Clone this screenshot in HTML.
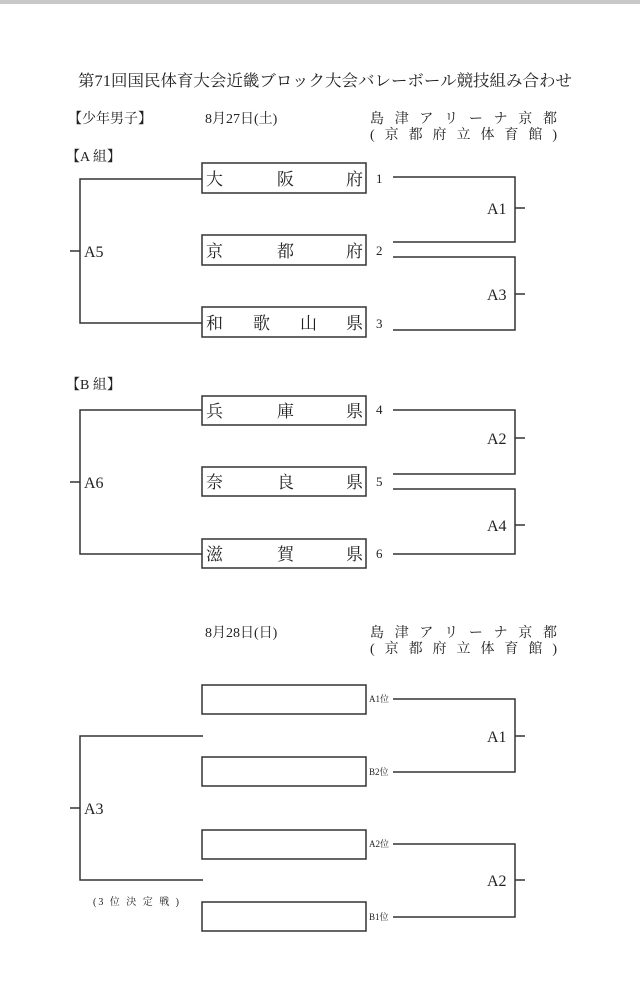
<!DOCTYPE html>
<html><head><meta charset="utf-8"><style>
html,body{margin:0;padding:0;background:#fff;}
svg{display:block}
text{font-family:"Liberation Serif","Noto Serif CJK SC","Noto Sans CJK JP",serif;fill:#222}
</style></head><body>
<svg width="640" height="985" viewBox="0 0 640 985" xmlns="http://www.w3.org/2000/svg">
<rect x="0" y="0" width="640" height="4" fill="#c8c8c8"/>
<g font-size="16">
<text x="78" y="86" textLength="494" lengthAdjust="spacingAndGlyphs">第71回国民体育大会近畿ブロック大会バレーボール競技組み合わせ</text>
</g>
<g font-size="14">
<text x="68" y="123">【少年男子】</text>
<text x="205" y="123">8月27日(土)</text>
<text x="370" y="123" textLength="187" lengthAdjust="spacing">島 津 ア リ ー ナ 京 都</text>
<text x="370" y="139" textLength="187" lengthAdjust="spacing">( 京 都 府 立 体 育 館 )</text>
<text x="66" y="161">【A  組】</text>
<text x="66" y="389">【B  組】</text>
<text x="205" y="637">8月28日(日)</text>
<text x="370" y="637" textLength="187" lengthAdjust="spacing">島 津 ア リ ー ナ 京 都</text>
<text x="370" y="653" textLength="187" lengthAdjust="spacing">( 京 都 府 立 体 育 館 )</text>
</g>
<g fill="none" stroke="#333" stroke-width="1.5">
<rect x="202" y="163" width="164" height="30"/>
<rect x="202" y="235" width="164" height="30"/>
<rect x="202" y="307" width="164" height="30"/>
<rect x="202" y="396" width="164" height="29"/>
<rect x="202" y="467" width="164" height="29"/>
<rect x="202" y="539" width="164" height="29"/>
<rect x="202" y="685" width="164" height="29"/>
<rect x="202" y="757" width="164" height="29"/>
<rect x="202" y="830" width="164" height="29"/>
<rect x="202" y="902" width="164" height="29"/>
<polyline points="202,179 80,179 80,323 202,323"/>
<line x1="70" y1="251" x2="80" y2="251"/>
<polyline points="202,410 80,410 80,554 202,554"/>
<line x1="70" y1="482" x2="80" y2="482"/>
<polyline points="203,736 80,736 80,880 203,880"/>
<line x1="70" y1="808" x2="80" y2="808"/>
<polyline points="393,177 515,177 515,242 393,242"/>
<line x1="515" y1="208" x2="525" y2="208"/>
<polyline points="393,257 515,257 515,330 393,330"/>
<line x1="515" y1="294" x2="525" y2="294"/>
<polyline points="393,410 515,410 515,474 393,474"/>
<line x1="515" y1="438" x2="525" y2="438"/>
<polyline points="393,489 515,489 515,554 393,554"/>
<line x1="515" y1="525" x2="525" y2="525"/>
<polyline points="393,699 515,699 515,772 393,772"/>
<line x1="515" y1="736" x2="525" y2="736"/>
<polyline points="393,844 515,844 515,917 393,917"/>
<line x1="515" y1="880" x2="525" y2="880"/>
</g>
<g font-size="17">
<text x="206" y="185">大</text><text x="277" y="185">阪</text><text x="346" y="185">府</text>
<text x="206" y="257">京</text><text x="277" y="257">都</text><text x="346" y="257">府</text>
<text x="206" y="329">和</text><text x="253" y="329">歌</text><text x="300" y="329">山</text><text x="346" y="329">県</text>
<text x="206" y="417">兵</text><text x="277" y="417">庫</text><text x="346" y="417">県</text>
<text x="206" y="488">奈</text><text x="277" y="488">良</text><text x="346" y="488">県</text>
<text x="206" y="560">滋</text><text x="277" y="560">賀</text><text x="346" y="560">県</text>
</g>
<g font-size="13">
<text x="376" y="183">1</text><text x="376" y="255">2</text><text x="376" y="328">3</text>
<text x="376" y="414">4</text><text x="376" y="486">5</text><text x="376" y="558">6</text>
</g>
<g font-size="16">
<text x="487" y="214">A1</text><text x="487" y="300">A3</text>
<text x="487" y="444">A2</text><text x="487" y="531">A4</text>
<text x="487" y="742">A1</text><text x="487" y="886">A2</text>
<text x="84" y="257">A5</text><text x="84" y="488">A6</text><text x="84" y="814">A3</text>
</g>
<g font-size="9">
<text x="369" y="702">A1位</text><text x="369" y="775">B2位</text>
<text x="369" y="847">A2位</text><text x="369" y="920">B1位</text>
</g>
<text x="93" y="905" font-size="10" textLength="86" lengthAdjust="spacing">(3 位 決 定 戦 )</text>
</svg>
</body></html>
